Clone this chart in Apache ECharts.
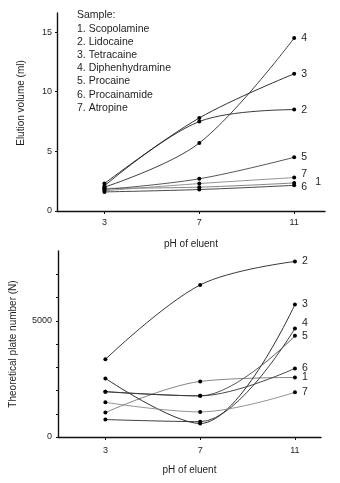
<!DOCTYPE html>
<html>
<head>
<meta charset="utf-8">
<script src="https://cdn.jsdelivr.net/npm/echarts@6/dist/echarts.min.js"></script>
<style>
  html, body { margin: 0; padding: 0; background: #fff; }
  #chart { width: 340px; height: 483px; }
</style>
</head>
<body>
<div id="chart"></div>
<script>
// pH values at which each sample was run
const pH = [3, 7, 11];

// Sample names, numbered in the key and at the ends of the curves
const samples = ['Scopolamine', 'Lidocaine', 'Tetracaine', 'Diphenhydramine',
                 'Procaine', 'Procainamide', 'Atropine'];

// Elution volume (ml) at pH 3, 7, 11
const elution1 = [1.9, 2.0, 2.35];
const elution2 = [2.1, 7.5, 8.5];
const elution3 = [2.3, 7.8, 11.5];
const elution4 = [2.0, 5.7, 14.5];
const elution5 = [1.8, 2.7, 4.5];
const elution6 = [1.6, 1.8, 2.15];
const elution7 = [1.7, 2.3, 2.8];

// Theoretical plate number (N) at pH 3, 7, 11
const plates1 = [1050, 2390, 2560];
const plates2 = [3340, 6540, 7550];
const plates3 = [2520, 580, 5700];
const plates4 = [750, 660, 4670];
const plates5 = [1950, 1770, 4350];
const plates6 = [1950, 1770, 2950];
const plates7 = [1490, 1080, 1920];

const elutionTicks = [0, 5, 10, 15];
const plateLabelTicks = [0, 5000];
const plateTicks = [0, 1000, 2000, 3000, 4000, 5000, 6000, 7000];

const elution = [elution1, elution2, elution3, elution4, elution5, elution6, elution7];
const plates = [plates1, plates2, plates3, plates4, plates5, plates6, plates7];

const FONT = 'Liberation Sans, Arial, sans-serif';
const INK = '#1e1e1e';

// per-curve line shade and end label nudges
const lineShade = ['#777', '#222', '#1a1a1a', '#2a2a2a', '#444', '#333', '#888'];
const topNudge = [[14, -1], [0, 0], [0, 0], [0, 0], [0, 0], [0, 2], [0, -3]];
const bottomNudge = [[0, 0], [0, 0], [0, 0], [0, -5], [0, 0], [0, 0], [0, 0]];

function makeSeries(values, axisIndex, nudge) {
  return values.map((vals, i) => ({
    type: 'line',
    name: samples[i],
    xAxisIndex: axisIndex,
    yAxisIndex: axisIndex,
    smooth: 0.35,
    data: pH.map((p, j) => [p, vals[j]]),
    symbol: 'circle',
    symbolSize: 4,
    itemStyle: { color: '#000' },
    lineStyle: { color: lineShade[i], width: 0.9 },
    endLabel: {
      show: true,
      formatter: String(i + 1),
      distance: 7,
      offset: nudge[i],
      color: INK,
      fontFamily: FONT,
      fontSize: 10.5
    },
    emphasis: { disabled: true },
    animation: false,
    z: 3
  }));
}

function xAxis(gridIndex, max, nameGap, labelMargin) {
  return {
    type: 'value',
    gridIndex: gridIndex,
    min: 1,
    max: max,
    name: 'pH of eluent',
    nameLocation: 'middle',
    nameGap: nameGap,
    nameTextStyle: { color: INK, fontFamily: FONT, fontSize: 10 },
    axisLine: { lineStyle: { color: '#111', width: 1.4 } },
    axisTick: { show: true, customValues: pH, length: 3, lineStyle: { color: '#111' } },
    axisLabel: { customValues: pH, color: INK, fontFamily: FONT, fontSize: 9, margin: labelMargin },
    splitLine: { show: false }
  };
}

const chart = echarts.init(document.getElementById('chart'), null, { renderer: 'canvas' });

chart.setOption({
  backgroundColor: '#fff',
  animation: false,
  grid: [
    { left: 57, right: 15, top: 13, height: 198 },
    { left: 58, right: 19, top: 251, height: 186 }
  ],
  xAxis: [xAxis(0, 12.3, 28, 7), xAxis(1, 12.1, 28, 9)],
  yAxis: [
    {
      type: 'value',
      gridIndex: 0,
      min: 0,
      max: 16.6,
      name: 'Elution volume (ml)',
      nameLocation: 'middle',
      nameGap: 31,
      nameTextStyle: { color: INK, fontFamily: FONT, fontSize: 10, padding: [0, 0, 0, 18] },
      axisLine: { show: true, lineStyle: { color: '#111', width: 1.4 } },
      axisTick: { show: true, customValues: elutionTicks, length: 2, lineStyle: { color: '#111' } },
      axisLabel: { customValues: elutionTicks, color: INK, fontFamily: FONT, fontSize: 9, margin: 5 },
      splitLine: { show: false }
    },
    {
      type: 'value',
      gridIndex: 1,
      min: 0,
      max: 8000,
      name: 'Theoretical plate number (N)',
      nameLocation: 'middle',
      nameGap: 40,
      nameTextStyle: { color: INK, fontFamily: FONT, fontSize: 10 },
      axisLine: { show: true, lineStyle: { color: '#111', width: 1.4 } },
      axisTick: { show: true, customValues: plateTicks, length: 2, lineStyle: { color: '#111' } },
      axisLabel: {
        customValues: plateLabelTicks,
        formatter: v => String(v),
        color: INK, fontFamily: FONT, fontSize: 9, margin: 6
      },
      splitLine: { show: false }
    }
  ],
  graphic: [
    {
      type: 'text',
      left: 77,
      top: 9,
      style: {
        text: ['Sample:'].concat(samples.map((s, i) => (i + 1) + '. ' + s)).join('\n'),
        fill: INK,
        font: '10.5px ' + FONT,
        lineHeight: 13.2
      }
    }
  ],
  series: makeSeries(elution, 0, topNudge).concat(makeSeries(plates, 1, bottomNudge))
});
</script>
</body>
</html>
